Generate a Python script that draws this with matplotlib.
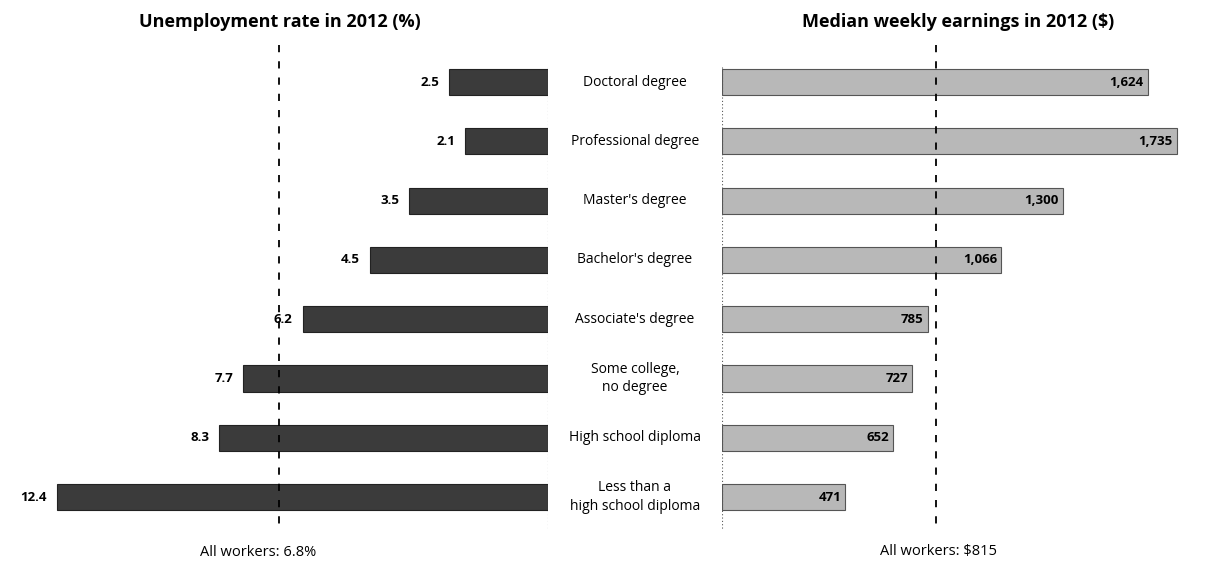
import numpy as np
import matplotlib
matplotlib.use('Agg')
import matplotlib.pyplot as plt
from matplotlib.transforms import blended_transform_factory

plt.rcParams['font.family'] = ['Open Sans', 'DejaVu Sans']

categories = ['Doctoral degree', 'Professional degree', "Master's degree",
              "Bachelor's degree", "Associate's degree",
              'Some college,\nno degree', 'High school diploma',
              'Less than a\nhigh school diploma']
unemployment = [2.5, 2.1, 3.5, 4.5, 6.2, 7.7, 8.3, 12.4]
earnings = [1624, 1735, 1300, 1066, 785, 727, 652, 471]
unemp_labels = ['2.5', '2.1', '3.5', '4.5', '6.2', '7.7', '8.3', '12.4']
earn_labels = ['1,624', '1,735', '1,300', '1,066', '785', '727', '652', '471']
all_unemp = 6.8
all_earn = 815

W, H = 1212, 571
fig = plt.figure(figsize=(W / 100, H / 100), dpi=100)

axL = fig.add_axes([0, 0, 548 / W, 1])
axR = fig.add_axes([722 / W, 0, (W - 722) / W, 1])

y = np.arange(len(categories))
ylim = (8.246, -1.383)
bar_h = 0.44

axL.barh(y, unemployment, height=bar_h, color='#3b3b3b', edgecolor='#222222', linewidth=0.8)
axL.set_xlim(13.84, 0)
axL.set_ylim(*ylim)
for yi, v, lab in zip(y, unemployment, unemp_labels):
    axL.text(v + 0.25, yi, lab, ha='right', va='center', fontsize=9.5, fontweight='bold')
axL.vlines(all_unemp, -0.62, 7.55, colors='black', linestyles=(0, (4, 5)), linewidth=1.3)
axL.vlines(0, -0.25, 7.55, colors='#555555', linestyles=(0, (1, 2)), linewidth=0.8)

axR.barh(y, earnings, height=bar_h, color='#b8b8b8', edgecolor='#555555', linewidth=0.8)
axR.set_xlim(0, 1870)
axR.set_ylim(*ylim)
for yi, v, lab in zip(y, earnings, earn_labels):
    axR.text(v - 15, yi, lab, ha='right', va='center', fontsize=9.5, fontweight='bold')
axR.vlines(all_earn, -0.62, 7.55, colors='black', linestyles=(0, (4, 5)), linewidth=1.3)
axR.vlines(0, -0.25, 7.55, colors='#555555', linestyles=(0, (1, 2)), linewidth=0.8)

for ax in (axL, axR):
    ax.set_axis_off()

trans = blended_transform_factory(fig.transFigure, axL.transData)
for yi, cat in zip(y, categories):
    fig.text(635 / W, yi, cat, transform=trans, ha='center', va='center',
             fontsize=10, linespacing=1.3)

fig.text(280 / W, 1 - 22 / H, 'Unemployment rate in 2012 (%)', ha='center', va='center',
         fontsize=13, fontweight='bold')
fig.text(958 / W, 1 - 22 / H, 'Median weekly earnings in 2012 ($)', ha='center', va='center',
         fontsize=13, fontweight='bold')
fig.text(258 / W, 1 - 552 / H, 'All workers: 6.8%', ha='center', va='center', fontsize=10.5)
fig.text(938 / W, 1 - 552 / H, 'All workers: $815', ha='center', va='center', fontsize=10.5)

fig.savefig('out.png', dpi=100)
plt.close(fig)
